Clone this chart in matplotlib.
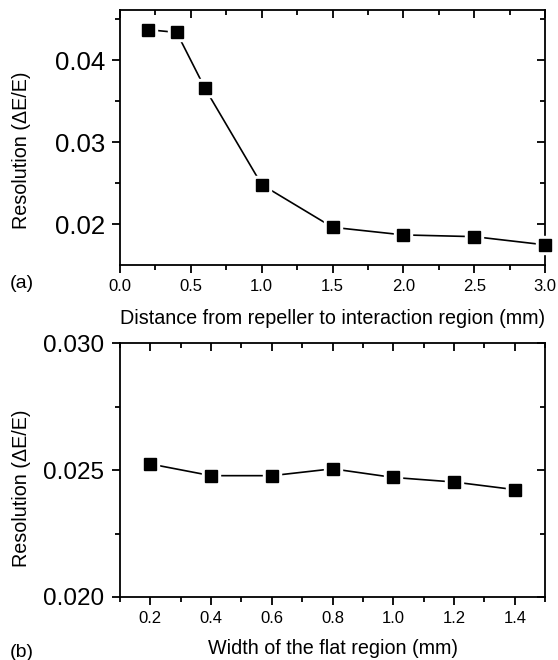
import matplotlib
matplotlib.use("Agg")
import matplotlib.pyplot as plt
from matplotlib.ticker import MultipleLocator, FormatStrFormatter

plt.rcParams["font.family"] = ["Liberation Sans", "DejaVu Sans"]

# panel (a): distance from repeller
dist_mm = [0.2, 0.4, 0.6, 1.0, 1.5, 2.0, 2.5, 3.0]
res_dist = [0.04369, 0.04336, 0.03655, 0.02483, 0.01964, 0.01871, 0.0185, 0.0175]

# panel (b): width of flat region
width_mm = [0.2, 0.4, 0.6, 0.8, 1.0, 1.2, 1.4]
res_width = [0.02524, 0.02478, 0.02478, 0.02505, 0.02471, 0.02453, 0.02423]

MAJ, MIN, LW = 5.8, 3.6, 1.3


def set_locators(ax, xmaj, xmin, ymaj, ymin):
    ax.xaxis.set_major_locator(MultipleLocator(xmaj))
    ax.xaxis.set_minor_locator(MultipleLocator(xmin))
    ax.yaxis.set_major_locator(MultipleLocator(ymaj))
    ax.yaxis.set_minor_locator(MultipleLocator(ymin))


def style_axes(ax, xmaj, xmin, ymaj, ymin):
    for s in ax.spines.values():
        s.set_linewidth(LW)
    ax.tick_params(which="both", direction="out", width=LW)
    ax.tick_params(which="major", length=MAJ)
    ax.tick_params(which="minor", length=MIN)
    # mirrored ticks on top/right point inward, no labels
    sec_x = ax.secondary_xaxis("top")
    sec_y = ax.secondary_yaxis("right")
    sec_x.xaxis.set_major_locator(MultipleLocator(xmaj))
    sec_x.xaxis.set_minor_locator(MultipleLocator(xmin))
    sec_y.yaxis.set_major_locator(MultipleLocator(ymaj))
    sec_y.yaxis.set_minor_locator(MultipleLocator(ymin))
    for sec in (sec_x, sec_y):
        sec.tick_params(which="both", direction="in", width=LW,
                        labelbottom=False, labeltop=False,
                        labelleft=False, labelright=False)
        sec.tick_params(which="major", length=MAJ)
        sec.tick_params(which="minor", length=MIN)
        sec.spines[:].set_visible(False)


def draw_series(ax, x, y):
    ax.plot(x, y, color="black", lw=1.2, zorder=2)
    ax.plot(x, y, ls="none", marker="s", ms=12.5, color="white", zorder=3, clip_on=False)
    ax.plot(x, y, ls="none", marker="s", ms=8, color="black", zorder=4, clip_on=False)


fig = plt.figure(figsize=(5.58, 6.6), dpi=100)
left, width = 0.215, 0.762

# ---- (a)
ax1 = fig.add_axes([left, 0.5985, width, 0.3865])
draw_series(ax1, dist_mm, res_dist)
ax1.set_xlim(0.0, 3.0)
ax1.set_ylim(0.01505, 0.0461)
set_locators(ax1, 0.5, 0.25, 0.01, 0.005)
ax1.xaxis.set_major_formatter(FormatStrFormatter("%.1f"))
ax1.yaxis.set_major_formatter(FormatStrFormatter("%.2f"))
style_axes(ax1, 0.5, 0.25, 0.01, 0.005)
ax1.tick_params(axis="x", labelsize=12, pad=4.5)
ax1.tick_params(axis="y", labelsize=18.5, pad=5)
fig.text(left + width / 2, 0.517, "Distance from repeller to interaction region (mm)",
         fontsize=14.2, ha="center", va="center")
fig.text(0.038, 0.773, "Resolution (ΔE/E)", rotation=90, fontsize=14.2,
         ha="center", va="center")
fig.text(0.018, 0.571, "(a)", fontsize=14, ha="left", va="center")

# ---- (b)
ax2 = fig.add_axes([left, 0.0955, width, 0.3845])
draw_series(ax2, width_mm, res_width)
ax2.set_xlim(0.1, 1.5)
ax2.set_ylim(0.020, 0.030)
set_locators(ax2, 0.2, 0.1, 0.005, 0.0025)
ax2.xaxis.set_major_formatter(FormatStrFormatter("%.1f"))
ax2.yaxis.set_major_formatter(FormatStrFormatter("%.3f"))
style_axes(ax2, 0.2, 0.1, 0.005, 0.0025)
ax2.tick_params(axis="x", labelsize=12, pad=4.5)
ax2.tick_params(axis="y", labelsize=17.5, pad=5.5)
fig.text(left + width / 2, 0.018, "Width of the flat region (mm)",
         fontsize=14.2, ha="center", va="center")
fig.text(0.038, 0.26, "Resolution (ΔE/E)", rotation=90, fontsize=14.2,
         ha="center", va="center")
fig.text(0.018, 0.012, "(b)", fontsize=14, ha="left", va="center")

fig.savefig("out.png", dpi=100)
